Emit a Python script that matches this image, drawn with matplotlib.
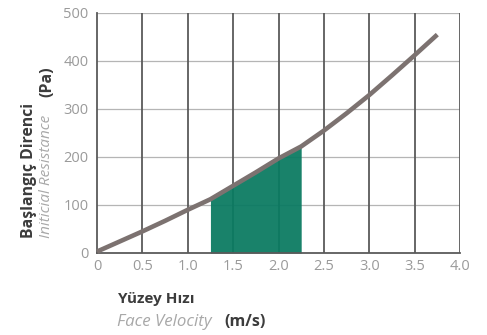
import matplotlib
matplotlib.use("Agg")
import matplotlib.pyplot as plt
import numpy as np

# Data
velocity = [0, 0.25, 0.5, 0.75, 1.0, 1.25, 1.5, 1.75, 2.0, 2.25, 2.5, 2.75, 3.0, 3.25, 3.5, 3.75]
resistance = [3, 24, 45, 67, 90, 112, 140, 168, 197, 222, 255, 291, 329, 370, 412, 455]
fill_start = 1.25
fill_end = 2.25
x_ticks = [0, 0.5, 1.0, 1.5, 2.0, 2.5, 3.0, 3.5, 4.0]
x_tick_labels = ["0", "0.5", "1.0", "1.5", "2.0", "2.5", "3.0", "3.5", "4.0"]
y_ticks = [0, 100, 200, 300, 400, 500]
y_tick_labels = ["0", "100", "200", "300", "400", "500"]

plt.rcParams['font.family'] = ['Open Sans', 'DejaVu Sans']

fig = plt.figure(figsize=(4.87, 3.35), dpi=100)
ax = fig.add_axes([97/487, 1 - 253/335, (460 - 97)/487, (253 - 13)/335])

ax.set_xlim(0, 4.0)
ax.set_ylim(0, 500)

# grid lines
for yt in y_ticks[1:]:
    ax.axhline(yt, color='#b5b5b5', lw=0.9, zorder=1)
for xt in x_ticks[1:]:
    ax.axvline(xt, color='#5a5a5a', lw=1.3, zorder=1)

v = np.array(velocity)
r = np.array(resistance)
mask = (v >= fill_start) & (v <= fill_end)
ax.fill_between(v, 0, r, where=mask, color='#0a7a61', alpha=0.94, lw=0, zorder=2)

ax.plot(v, r, color='#7c7270', lw=3.3, solid_capstyle='butt', zorder=3, clip_on=False)

for s in ['top', 'right']:
    ax.spines[s].set_visible(False)
for s in ['left', 'bottom']:
    ax.spines[s].set_color('#5a5a5a')
    ax.spines[s].set_linewidth(1.3)

ax.set_xticks(x_ticks)
ax.set_xticklabels(x_tick_labels)
ax.set_yticks(y_ticks)
ax.set_yticklabels(y_tick_labels)
ax.tick_params(length=0, colors='#9a9a9a', labelsize=10.5, pad=4)
ax.tick_params(axis='y', pad=6)

# Y axis labels
fig.text(29/487, 1 - 238/335, "Başlangıç Direnci", rotation=90, ha='center', va='bottom',
         fontsize=11.3, fontweight='bold', color='#3c3c3c')
fig.text(47/487, 1 - 238/335, "Initicial Resistance", rotation=90, ha='center', va='bottom',
         fontsize=11, style='italic', color='#a8a8a8')
fig.text(47/487, 1 - 97/335, "(Pa)", rotation=90, ha='center', va='bottom',
         fontsize=11.5, fontweight='bold', color='#3c3c3c')

# X axis labels
fig.text(118/487, 1 - 299/335, "Yüzey Hızı", ha='left', va='center',
         fontsize=11, fontweight='bold', color='#3c3c3c')
fig.text(117/487, 1 - 322/335, "Face Velocity", ha='left', va='center',
         fontsize=12.2, style='italic', color='#a8a8a8')
fig.text(224/487, 1 - 322/335, "(m/s)", ha='left', va='center',
         fontsize=11.5, fontweight='bold', color='#3c3c3c')

fig.savefig("out.png", dpi=100)
